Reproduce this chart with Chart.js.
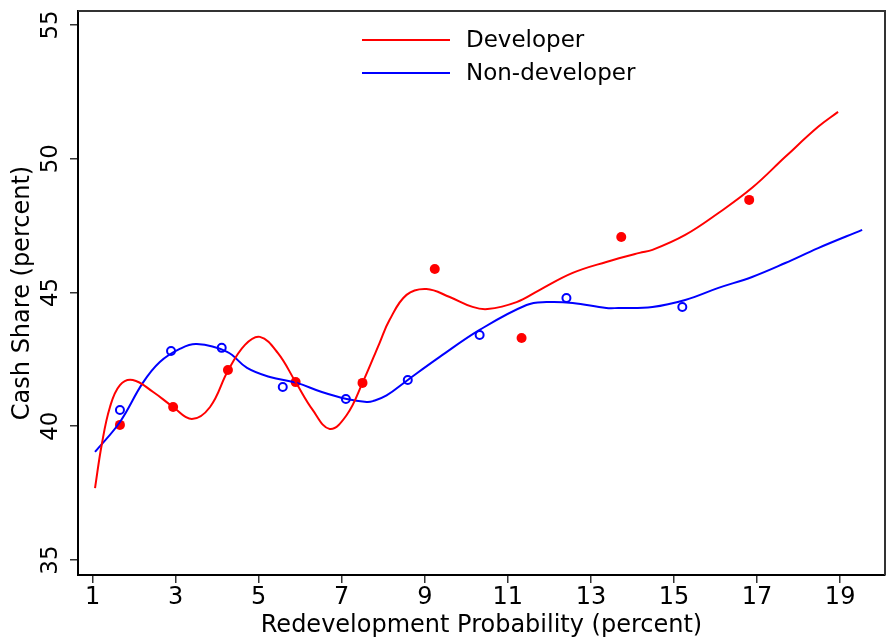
<!DOCTYPE html>
<html>
<head>
<meta charset="utf-8">
<title>Cash Share vs Redevelopment Probability</title>
<script src="https://cdn.jsdelivr.net/npm/chart.js@4.4.1/dist/chart.umd.min.js"></script>
<style>
  html, body { margin: 0; padding: 0; background: #fff; }
  canvas { display: block; }
</style>
</head>
<body>
<canvas id="chart" width="886" height="640"></canvas>
<script>
// tick labels
const xTicks = [1, 3, 5, 7, 9, 11, 13, 15, 17, 19]
const yTicks = [35, 40, 45, 50, 55]

// binned scatter points
const devX = [1.66, 2.94, 4.26, 5.89, 7.50, 9.24, 11.33, 13.73, 16.81]
const devY = [40.05, 40.72, 42.10, 41.65, 41.62, 45.88, 43.30, 47.07, 48.46]
const nonX = [1.66, 2.89, 4.11, 5.58, 7.10, 8.59, 10.32, 12.41, 15.20]
const nonY = [40.61, 42.81, 42.93, 41.47, 41.02, 41.73, 43.41, 44.79, 44.46]

// fitted curves
const devFitX = [1.06, 1.22, 1.42, 1.66, 1.97, 2.46, 2.94, 3.39, 3.83, 4.26, 4.67, 5.03, 5.46, 5.89, 6.30, 6.71, 7.12, 7.50, 7.91, 8.15, 8.56, 9.04, 9.60, 10.15, 10.51, 11.21, 11.76, 12.56, 13.37, 14.17, 14.48, 15.27, 16.07, 16.88, 17.68, 18.47, 18.95]
const devFitY = [37.69, 39.30, 40.72, 41.54, 41.73, 41.28, 40.72, 40.27, 40.72, 42.07, 43.04, 43.34, 42.74, 41.65, 40.61, 39.90, 40.42, 41.62, 43.11, 43.97, 44.91, 45.13, 44.83, 44.46, 44.38, 44.64, 45.09, 45.73, 46.14, 46.48, 46.59, 47.15, 47.97, 48.91, 50.07, 51.19, 51.75]
const nonFitX = [1.06, 1.66, 2.21, 2.62, 3.10, 3.51, 4.24, 4.72, 5.27, 5.92, 6.52, 7.12, 7.60, 7.75, 8.08, 8.59, 9.36, 10.32, 11.45, 11.93, 12.56, 13.37, 13.66, 14.48, 15.27, 16.07, 16.88, 17.68, 18.47, 19.53]
const nonFitY = [39.04, 40.16, 41.62, 42.40, 42.89, 43.07, 42.78, 42.18, 41.84, 41.62, 41.28, 41.02, 40.91, 40.94, 41.15, 41.73, 42.59, 43.60, 44.53, 44.64, 44.61, 44.42, 44.42, 44.46, 44.72, 45.17, 45.58, 46.10, 46.66, 47.34]

const seriesNames = ['Developer', 'Non-developer']
const red = '#ff0000'
const blue = '#0000ff'
const fontFamily = '"DejaVu Sans", sans-serif'

const toPoints = (xs, ys) => xs.map((x, i) => ({ x: x, y: ys[i] }))

// frame on top/right plus the legend inside the plot
const framePlugin = {
  id: 'frameAndLegend',
  afterDraw(chart) {
    const { ctx, chartArea: a } = chart
    ctx.save()
    ctx.strokeStyle = '#333'
    ctx.lineWidth = 2
    ctx.beginPath()
    ctx.moveTo(a.left, a.top)
    ctx.lineTo(a.right, a.top)
    ctx.lineTo(a.right, a.bottom)
    ctx.stroke()

    const colors = [red, blue]
    const rows = [40, 73]
    ctx.font = '23px ' + fontFamily
    ctx.textBaseline = 'middle'
    ctx.fillStyle = '#000'
    seriesNames.forEach((name, i) => {
      ctx.strokeStyle = colors[i]
      ctx.lineWidth = 2
      ctx.beginPath()
      ctx.moveTo(362, rows[i])
      ctx.lineTo(450, rows[i])
      ctx.stroke()
      ctx.fillText(name, 466, rows[i] + 1)
    })
    ctx.restore()
  }
}

new Chart(document.getElementById('chart'), {
  type: 'scatter',
  data: {
    datasets: [
      {
        label: seriesNames[0] + ' fit',
        data: toPoints(devFitX, devFitY),
        showLine: true,
        borderColor: red,
        borderWidth: 2,
        pointRadius: 0,
        tension: 0.4
      },
      {
        label: seriesNames[1] + ' fit',
        data: toPoints(nonFitX, nonFitY),
        showLine: true,
        borderColor: blue,
        borderWidth: 2,
        pointRadius: 0,
        tension: 0.4
      },
      {
        label: seriesNames[0],
        data: toPoints(devX, devY),
        pointRadius: 5,
        backgroundColor: red,
        borderColor: red,
        borderWidth: 0
      },
      {
        label: seriesNames[1],
        data: toPoints(nonX, nonY),
        pointRadius: 4,
        backgroundColor: 'rgba(255,255,255,0)',
        borderColor: blue,
        borderWidth: 2
      }
    ]
  },
  options: {
    responsive: false,
    animation: false,
    layout: { autoPadding: false, padding: { top: 11, right: 1, left: 0, bottom: 0 } },
    plugins: {
      legend: { display: false },
      tooltip: { enabled: false }
    },
    scales: {
      x: {
        type: 'linear',
        min: 0.65,
        max: 20.08,
        afterBuildTicks: s => { s.ticks = xTicks.map(v => ({ value: v })) },
        afterFit: s => { s.height = 65; s.paddingLeft = 0; s.paddingRight = 0 },
        ticks: { color: '#000', font: { family: fontFamily, size: 24 }, padding: 0, maxRotation: 0 },
        grid: { drawOnChartArea: false, drawTicks: true, tickLength: 8, color: '#333', lineWidth: 1.5 },
        border: { color: '#000', width: 2 },
        title: {
          display: true,
          text: 'Redevelopment Probability (percent)',
          color: '#000',
          font: { family: fontFamily, size: 24 },
          padding: 0
        }
      },
      y: {
        type: 'linear',
        min: 34.44,
        max: 55.52,
        afterBuildTicks: s => { s.ticks = yTicks.map(v => ({ value: v })) },
        afterFit: s => { s.width = 78; s.paddingTop = 0; s.paddingBottom = 0 },
        ticks: { color: '#000', font: { family: fontFamily, size: 23 }, padding: 4, minRotation: 90, maxRotation: 90, crossAlign: 'center' },
        grid: { drawOnChartArea: false, drawTicks: true, tickLength: 8, color: '#333', lineWidth: 1.5 },
        border: { color: '#000', width: 2 },
        title: {
          display: true,
          text: 'Cash Share (percent)',
          color: '#000',
          font: { family: fontFamily, size: 24 },
          padding: { top: 8, bottom: 0 }
        }
      }
    }
  },
  plugins: [framePlugin]
})
</script>
</body>
</html>
